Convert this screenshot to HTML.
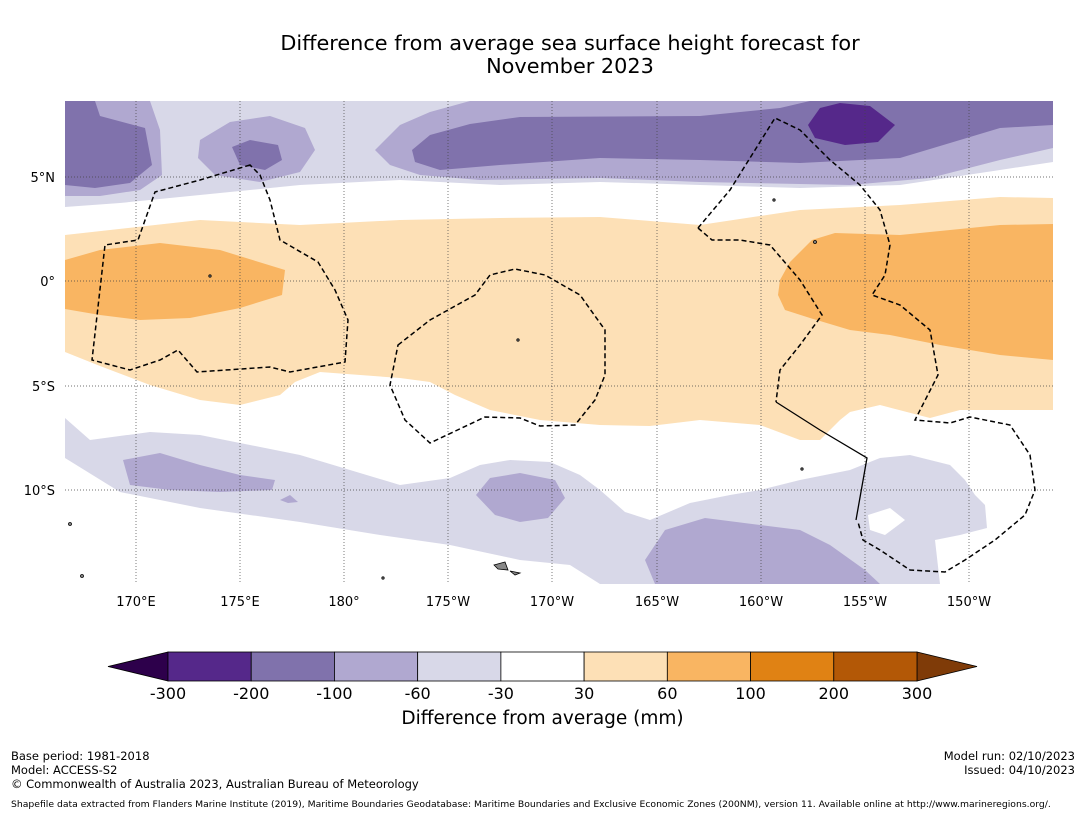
<!DOCTYPE html>
<html><head><meta charset="utf-8"><style>
body{margin:0;background:#fff;font-family:"DejaVu Sans","Liberation Sans",sans-serif;}
#wrap{position:relative;width:1085px;height:816px;overflow:hidden;background:#fff}
.t{position:absolute;color:#000;white-space:nowrap}
svg text{font-family:"DejaVu Sans","Liberation Sans",sans-serif}
</style></head><body>
<div id="wrap">
<div class="t" style="left:0;width:1140px;text-align:center;top:32px;font-size:20.8px;line-height:23px">Difference from average sea surface height forecast for<br>November 2023</div>
<svg width="1085" height="816" style="position:absolute;left:0;top:0" id="svg">
<defs><clipPath id="mc"><rect x="65" y="101" width="988" height="483"/></clipPath></defs>
<g clip-path="url(#mc)">
<rect x="65" y="101" width="988" height="483" fill="#fff"/>
<path fill="#d8d8e8" d="M65,101 L1053,101 L1053,162 L1000,170 L900,185 L800,188 L700,185 L600,182 L500,185 L400,180 L300,185 L200,195 L120,203 L65,207Z"/>
<path fill="#b0a8d0" d="M65,101 L150,101 L160,130 L162,175 L140,190 L100,196 L65,196Z M200,140 L230,122 L270,116 L305,128 L315,150 L300,172 L260,182 L215,175 L198,158Z M375,150 L400,125 L430,112 L470,101 L1053,101 L1053,148 L1000,160 L930,178 L850,185 L700,182 L600,178 L480,180 L420,175 L390,165Z"/>
<path fill="#8072ac" d="M65,101 L95,101 L100,116 L145,128 L152,165 L130,183 L95,188 L65,185Z M232,147 L250,140 L278,145 L282,160 L265,170 L240,165Z M412,150 L430,135 L470,124 L520,117 L700,116 L780,108 L810,101 L1053,101 L1053,125 L1000,128 L960,140 L900,158 L800,163 L700,160 L600,158 L500,165 L440,170 L415,162Z"/>
<path fill="#55288a" d="M808,125 L820,108 L840,103 L870,106 L895,125 L878,142 L845,145 L815,138Z"/>
<path fill="#fde0b6" d="M65,235 L200,220 L300,225 L400,220 L500,218 L600,217 L700,225 L800,210 L900,205 L1000,197 L1053,198 L1053,410 L1000,410 L960,410 L930,418 L880,405 L850,412 L840,420 L820,440 L800,440 L760,425 L700,420 L650,426 L600,425 L540,420 L490,410 L455,395 L430,382 L400,378 L320,372 L295,382 L280,395 L240,405 L200,400 L150,385 L100,366 L65,352Z"/>
<path fill="#f9b562" d="M65,260 L100,250 L160,243 L220,250 L285,270 L282,295 L240,308 L190,318 L140,320 L100,315 L65,309Z"/>
<path fill="#f9b562" d="M780,280 L790,262 L812,240 L835,233 L900,235 L950,230 L1000,225 L1053,224 L1053,360 L1000,355 L940,345 L890,335 L850,330 L810,318 L785,310 L778,295Z"/>
<path fill="#d8d8e8" d="M65,418 L90,440 L150,432 L200,435 L250,445 L300,455 L350,470 L400,485 L450,478 L480,465 L510,460 L550,462 L580,475 L600,490 L625,512 L650,520 L690,503 L730,495 L760,490 L800,480 L850,470 L880,458 L910,455 L950,465 L965,480 L975,495 L985,505 L987,528 L960,535 L935,540 L940,584 L600,584 L570,565 L520,560 L450,545 L380,535 L300,522 L200,508 L120,492 L65,458Z"/>
<path fill="#fff" d="M868,515 L890,508 L905,520 L885,535 L870,530Z"/>
<path fill="#b0a8d0" d="M123,460 L160,453 L200,465 L240,475 L275,480 L272,490 L220,492 L170,490 L130,485Z M280,500 L290,495 L298,502 L288,503Z M476,495 L490,478 L520,473 L555,480 L565,498 L548,518 L520,522 L495,515Z M645,560 L665,530 L705,518 L760,525 L800,530 L830,545 L865,570 L880,584 L655,584Z"/>
<g stroke="#444" stroke-width="0.7" stroke-dasharray="1,2" fill="none">
<line x1="136" y1="101" x2="136" y2="584"/><line x1="240" y1="101" x2="240" y2="584"/><line x1="344" y1="101" x2="344" y2="584"/><line x1="448" y1="101" x2="448" y2="584"/><line x1="552" y1="101" x2="552" y2="584"/><line x1="657" y1="101" x2="657" y2="584"/><line x1="761" y1="101" x2="761" y2="584"/><line x1="865" y1="101" x2="865" y2="584"/><line x1="969" y1="101" x2="969" y2="584"/>
<line x1="65" y1="177" x2="1053" y2="177"/><line x1="65" y1="281" x2="1053" y2="281"/><line x1="65" y1="386" x2="1053" y2="386"/><line x1="65" y1="490" x2="1053" y2="490"/>
</g>
<g stroke="#000" stroke-width="1.5" stroke-dasharray="5,3" fill="none">
<path d="M250,165 L200,180 L155,192 L138,240 L105,245 L92,360 L130,370 L160,360 L178,350 L197,372 L270,367 L290,372 L345,362 L348,320 L335,290 L318,262 L280,240 L270,200 L260,175 L250,165Z"/>
<path d="M398,345 L430,320 L475,295 L490,275 L515,269 L545,275 L580,295 L605,330 L605,375 L595,400 L575,425 L540,426 L520,418 L485,417 L430,443 L405,420 L390,385 Z"/>
<path d="M698,228 L730,190 L775,118 L800,130 L830,160 L860,185 L880,210 L890,245 L885,275 L872,295 L900,305 L930,330 L938,375 L915,420 L950,423 L970,417 L1010,425 L1030,455 L1035,490 L1025,515 L995,540 L965,560 L945,572 L910,570 L880,550 L863,540 L858,522"/>
<path d="M698,228 L712,240 L740,240 L770,245 L800,280 L822,315 L800,345 L780,370 L776,402"/>
</g>
<path stroke="#000" stroke-width="1.3" fill="none" d="M776,402 L820,430 L867,458 L856,520"/>
<g fill="#888" stroke="#000" stroke-width="0.8">
<path d="M494,565 L505,562 L508,570 L498,569Z"/><path d="M510,571 L520,573 L515,575Z"/>
<circle cx="70" cy="524" r="1.5"/><circle cx="82" cy="576" r="1.5"/><circle cx="383" cy="578" r="1.2"/><circle cx="815" cy="242" r="1.5"/><circle cx="774" cy="200" r="1.2"/><circle cx="210" cy="276" r="1.2"/><circle cx="518" cy="340" r="1.2"/><circle cx="802" cy="469" r="1.2"/>
</g>
</g>
<g font-size="13" text-anchor="middle" fill="#000">
<text x="136" y="606">170°E</text><text x="240" y="606">175°E</text><text x="344" y="606">180°</text><text x="448" y="606">175°W</text><text x="552" y="606">170°W</text><text x="657" y="606">165°W</text><text x="761" y="606">160°W</text><text x="865" y="606">155°W</text><text x="969" y="606">150°W</text>
</g>
<g font-size="13" text-anchor="end" fill="#000">
<text x="55" y="182">5°N</text><text x="55" y="286">0°</text><text x="55" y="391">5°S</text><text x="55" y="495">10°S</text>
</g>
<g id="cbar"></g>
</svg>
<div class="t" style="left:0;width:1085px;text-align:center;top:708px;font-size:18.5px">Difference from average (mm)</div>
<div class="t" style="left:11px;top:749px;font-size:11.5px;line-height:14px">Base period: 1981-2018<br>Model: ACCESS-S2</div>
<div class="t" style="left:11px;top:777px;font-size:11.5px">© Commonwealth of Australia 2023, Australian Bureau of Meteorology</div>
<div class="t" style="right:10px;top:749px;font-size:11.5px;line-height:14px;text-align:right">Model run: 02/10/2023<br>Issued: 04/10/2023</div>
<div class="t" style="left:11px;top:799px;font-size:9.25px">Shapefile data extracted from Flanders Marine Institute (2019), Maritime Boundaries Geodatabase: Maritime Boundaries and Exclusive Economic Zones (200NM), version 11. Available online at http://www.marineregions.org/.</div>
</div>
<script>
const levels=["-300","-200","-100","-60","-30","30","60","100","200","300"];
const colors=["#55288a","#8072ac","#b0a8d0","#d8d8e8","#ffffff","#fde0b6","#f9b562","#e08214","#b35806"];
const extColors=["#2d004b","#7f3b08"];
const g=document.getElementById('cbar');const ns="http://www.w3.org/2000/svg";
const x0=168,x1=917,y0=652,h=29,w=(x1-x0)/colors.length;
function mk(t,a){const e=document.createElementNS(ns,t);for(const k in a)e.setAttribute(k,a[k]);g.appendChild(e);return e;}
let p=mk('polygon',{points:`${x0},${y0} ${x0},${y0+h} 108,${y0+h/2}`,fill:extColors[0],stroke:"#000","stroke-width":0.8});


p=mk('polygon',{points:`${x1},${y0} ${x1},${y0+h} 977,${y0+h/2}`,fill:extColors[1],stroke:"#000","stroke-width":0.8});


colors.forEach((c,i)=>{const r=mk('rect',{x:x0+i*w,y:y0,width:w,height:h,fill:c,stroke:"#000","stroke-width":0.8});

});
levels.forEach((l,i)=>{const t=mk('text',{x:x0+i*w,y:699,"font-size":16,"text-anchor":"middle"});t.textContent=l;

});
</script>
</body></html>
